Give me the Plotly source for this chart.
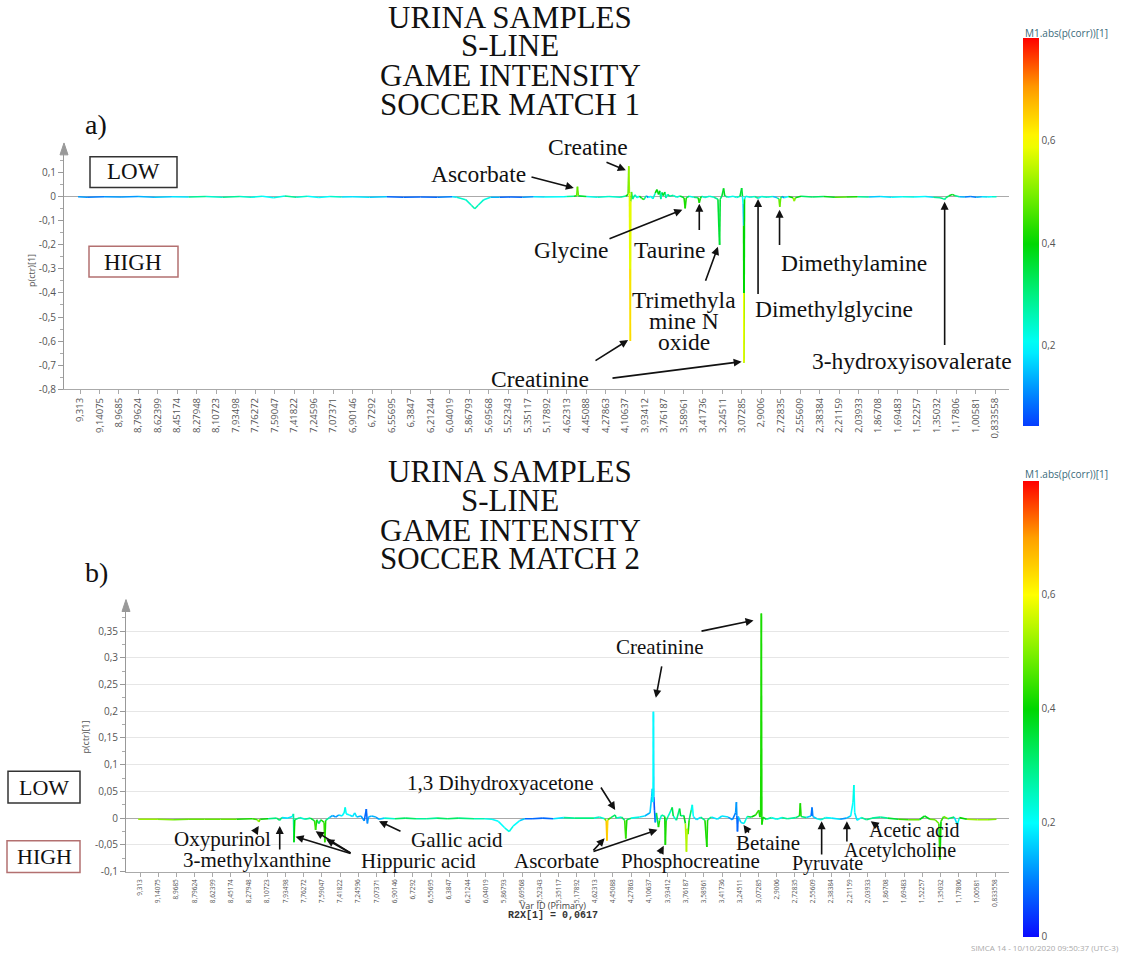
import numpy as np
import plotly.graph_objects as go

W, H = 1123, 960

# ---------------- data ----------------
tick_text = ["9,313", "9,14075", "8,9685", "8,79624", "8,62399", "8,45174", "8,27948", "8,10723",
             "7,93498", "7,76272", "7,59047", "7,41822", "7,24596", "7,07371", "6,90146", "6,7292",
             "6,55695", "6,3847", "6,21244", "6,04019", "5,86793", "5,69568", "5,52343", "5,35117",
             "5,17892", "4,62313", "4,45088", "4,27863", "4,10637", "3,93412", "3,76187", "3,58961",
             "3,41736", "3,24511", "3,07285", "2,9006", "2,72835", "2,55609", "2,38384", "2,21159",
             "2,03933", "1,86708", "1,69483", "1,52257", "1,35032", "1,17806", "1,00581", "0,833558"]

# Panel a (soccer match 1): ppm position, p(ctr)[1], abs(p(corr))
a_ppm = [9.33, 9.25, 9.10, 8.95, 8.80, 8.65, 8.50, 8.35, 8.20, 8.05, 7.90, 7.80, 7.70, 7.60, 7.50,
         7.40, 7.30, 7.20, 7.10, 7.00, 6.90, 6.75, 6.60, 6.45, 6.30, 6.15, 6.02, 5.98, 5.90, 5.85,
         5.82, 5.79, 5.74, 5.68, 5.60, 5.50, 5.40, 5.30, 5.20, 4.70, 4.62, 4.56, 4.535, 4.528, 4.520,
         4.45, 4.35, 4.25, 4.15, 4.10, 4.080, 4.074, 4.068, 4.064, 4.060, 4.056, 4.050, 4.040, 4.02,
         4.00, 3.98, 3.96, 3.94, 3.92, 3.90, 3.88, 3.86, 3.84, 3.825, 3.81, 3.80, 3.79, 3.78, 3.77,
         3.755, 3.745, 3.73, 3.71, 3.68, 3.65, 3.62, 3.585, 3.575, 3.565, 3.54, 3.50, 3.46, 3.45,
         3.44, 3.43, 3.40, 3.36, 3.32, 3.285, 3.275, 3.270, 3.265, 3.25, 3.235, 3.225, 3.20, 3.15,
         3.12, 3.09, 3.075, 3.068, 3.062, 3.058, 3.056, 3.055, 3.050, 3.04, 3.00, 2.96, 2.93, 2.90, 2.85,
         2.80, 2.76, 2.745, 2.738, 2.730, 2.72, 2.70, 2.66, 2.62, 2.61, 2.60, 2.55, 2.45, 2.35, 2.25,
         2.15, 2.05, 1.95, 1.85, 1.75, 1.65, 1.55, 1.45, 1.38, 1.32, 1.29, 1.279, 1.27, 1.24, 1.21,
         1.19, 1.15, 1.10, 1.05, 1.00, 0.95, 0.90, 0.86, 0.82]
a_val = [0.000, -0.002, 0.000, -0.001, 0.001, -0.002, 0.000, -0.001, 0.001, -0.002, 0.001, -0.002, 0.002, -0.004, 0.003,
         -0.002, 0.002, -0.003, 0.001, -0.001, 0.000, -0.002, 0.000, -0.002, -0.001, -0.002, 0.000, -0.002, -0.012, -0.035,
         -0.050, -0.035, -0.012, -0.002, -0.002, -0.001, -0.002, 0.000, -0.001, 0.000, 0.001, 0.002, 0.004, 0.042, 0.004,
         0.001, -0.002, 0.001, -0.002, 0.003, 0.010, 0.127, 0.015, -0.300, -0.600, -0.020, 0.020, -0.010, 0.008,
         -0.004, 0.003, -0.006, -0.012, 0.004, -0.003, 0.002, -0.008, 0.015, 0.030, 0.010, 0.025, -0.010, 0.018, 0.005,
         0.020, -0.005, 0.010, 0.002, 0.006, -0.002, 0.003, -0.004, -0.048, -0.004, 0.002, -0.002, -0.004, -0.025,
         -0.006, 0.002, -0.003, 0.002, -0.002, -0.010, -0.150, -0.200, -0.010, 0.003, 0.035, 0.004, -0.002, 0.002,
         -0.003, 0.002, 0.036, 0.003, -0.030, -0.120, -0.400, -0.690, -0.010, 0.002, -0.002, 0.001, -0.006, 0.001, -0.002,
         0.001, -0.004, -0.010, -0.042, -0.006, 0.002, -0.004, 0.001, -0.004, -0.018, -0.004, 0.002, -0.001, 0.001, -0.002,
         -0.001, 0.000, -0.001, 0.001, -0.002, 0.000, -0.001, 0.001, -0.002, -0.004, -0.008, -0.012, -0.004, 0.004, 0.010,
         0.005, 0.000, -0.001, 0.001, -0.002, 0.000, -0.001, 0.000, 0.000]
a_corr = [0.10, 0.12, 0.08, 0.15, 0.10, 0.18, 0.12, 0.25, 0.30, 0.20, 0.35, 0.15, 0.30, 0.10, 0.35,
          0.20, 0.30, 0.12, 0.28, 0.22, 0.15, 0.20, 0.10, 0.06, 0.08, 0.06, 0.15, 0.22, 0.25, 0.25,
          0.26, 0.25, 0.25, 0.20, 0.08, 0.06, 0.08, 0.15, 0.22, 0.20, 0.25, 0.30, 0.45, 0.50, 0.45,
          0.25, 0.20, 0.30, 0.20, 0.35, 0.45, 0.52, 0.50, 0.64, 0.66, 0.50, 0.45, 0.15, 0.40,
          0.10, 0.30, 0.45, 0.45, 0.10, 0.10, 0.30, 0.08, 0.40, 0.42, 0.35, 0.45, 0.10, 0.40, 0.30,
          0.45, 0.10, 0.35, 0.25, 0.30, 0.20, 0.30, 0.40, 0.45, 0.40, 0.25, 0.20, 0.40, 0.45,
          0.40, 0.30, 0.20, 0.30, 0.20, 0.35, 0.36, 0.38, 0.35, 0.30, 0.42, 0.35, 0.20, 0.25,
          0.20, 0.30, 0.42, 0.30, 0.10, 0.22, 0.56, 0.62, 0.20, 0.25, 0.20, 0.30, 0.25, 0.20, 0.30,
          0.20, 0.10, 0.45, 0.50, 0.45, 0.15, 0.10, 0.30, 0.50, 0.52, 0.45, 0.30, 0.35, 0.30, 0.45,
          0.48, 0.35, 0.20, 0.10, 0.25, 0.15, 0.30, 0.10, 0.25, 0.30, 0.28, 0.25, 0.30, 0.35, 0.40,
          0.35, 0.20, 0.08, 0.12, 0.08, 0.20, 0.15, 0.25, 0.25]

# Panel b (soccer match 2)
b_ppm = [9.33, 9.15, 9.00, 8.85, 8.70, 8.55, 8.40, 8.25, 8.20, 8.188, 8.175, 8.10, 8.02, 7.99, 7.97,
         7.92, 7.87, 7.860, 7.855, 7.848, 7.80, 7.75, 7.70, 7.66, 7.650, 7.640, 7.62, 7.60, 7.570, 7.563,
         7.555, 7.52, 7.49, 7.46, 7.43, 7.40, 7.38, 7.37, 7.36, 7.33, 7.30, 7.28, 7.26, 7.22, 7.19,
         7.170, 7.160, 7.15, 7.12, 7.08, 7.05, 7.00, 6.90, 6.80, 6.70, 6.60, 6.50, 6.40, 6.30, 6.15,
         6.05, 5.98, 5.92, 5.86, 5.817, 5.78, 5.72, 5.67, 5.60, 5.50, 5.40, 5.30, 5.20, 4.65, 4.58,
         4.53, 4.515, 4.508, 4.500, 4.47, 4.43, 4.42, 4.37, 4.34, 4.33, 4.32, 4.28, 4.20, 4.15, 4.10,
         4.085, 4.078, 4.072, 4.068, 4.064, 4.058, 4.05, 4.04, 4.02, 4.01, 3.99, 3.96, 3.955, 3.948,
         3.93, 3.90, 3.89, 3.88, 3.85, 3.82, 3.81, 3.78, 3.765, 3.755, 3.748, 3.74, 3.73, 3.71, 3.70,
         3.69, 3.66, 3.62, 3.58, 3.562, 3.555, 3.52, 3.46, 3.42, 3.36, 3.32, 3.29, 3.282, 3.278, 3.272,
         3.265, 3.24, 3.21, 3.18, 3.14, 3.10, 3.070, 3.060, 3.052, 3.046, 3.041, 3.03, 3.00, 2.95, 2.90,
         2.85, 2.80, 2.72, 2.685, 2.677, 2.670, 2.62, 2.575, 2.566, 2.558, 2.52, 2.48, 2.44, 2.38, 2.30,
         2.24, 2.20, 2.178, 2.170, 2.162, 2.14, 2.10, 2.05, 2.00, 1.92, 1.85, 1.75, 1.65, 1.55, 1.50,
         1.45, 1.40, 1.365, 1.355, 1.345, 1.32, 1.28, 1.22, 1.19, 1.17, 1.10, 1.00, 0.90, 0.82]
b_val = [-0.002, -0.002, -0.003, -0.002, -0.002, -0.002, -0.002, -0.001, -0.003, -0.007, -0.002, -0.001, 0.000, -0.004, 0.001,
         0.000, 0.003, 0.008, -0.045, -0.003, 0.001, -0.002, 0.000, -0.005, -0.022, -0.003, -0.010, -0.003, -0.008, -0.045,
         -0.004, 0.001, 0.005, 0.002, 0.006, 0.004, 0.010, 0.020, 0.008, 0.006, 0.003, 0.010, 0.002, 0.004, -0.005,
         0.017, -0.010, 0.002, 0.004, 0.002, -0.002, 0.000, -0.001, 0.000, -0.001, -0.001, 0.000, -0.001, 0.000, -0.001,
         -0.001, -0.002, -0.006, -0.018, -0.025, -0.015, -0.005, -0.001, -0.001, 0.000, -0.001, 0.001, 0.000, 0.000, 0.002,
         -0.001, -0.005, -0.042, -0.003, 0.001, 0.006, 0.000, 0.002, -0.004, -0.038, -0.003, 0.000, 0.002, 0.004, 0.010,
         0.040, 0.055, 0.030, 0.199, 0.040, 0.015, -0.008, 0.010, -0.017, -0.004, 0.006, 0.003, -0.050, -0.005,
         0.003, 0.015, 0.020, 0.004, -0.004, 0.018, 0.004, 0.005, -0.010, -0.063, -0.020, -0.030, -0.004, 0.015, 0.025,
         0.003, -0.003, 0.002, -0.004, -0.054, -0.003, 0.002, -0.002, 0.004, 0.002, -0.003, 0.010, 0.030, 0.005, -0.025,
         0.003, -0.008, -0.010, 0.003, 0.002, 0.006, 0.015, 0.002, 0.005, 0.383, -0.012, 0.002, -0.002, 0.001, -0.002,
         0.001, -0.001, 0.001, 0.004, 0.028, 0.003, 0.001, 0.004, 0.020, 0.003, -0.001, -0.003, 0.001, 0.000, -0.002,
         0.000, 0.004, 0.030, 0.062, 0.010, -0.004, 0.001, -0.003, 0.000, 0.002, 0.000, -0.002, -0.003, -0.003, 0.004,
         -0.002, -0.003, -0.010, -0.078, -0.006, 0.003, -0.001, 0.002, -0.012, 0.001, -0.002, -0.003, -0.003, -0.002]
b_corr = [0.50, 0.52, 0.48, 0.50, 0.45, 0.50, 0.45, 0.40, 0.50, 0.52, 0.45, 0.35, 0.25, 0.40, 0.20,
          0.15, 0.20, 0.15, 0.42, 0.40, 0.20, 0.30, 0.25, 0.45, 0.45, 0.40, 0.25, 0.40, 0.45, 0.45,
          0.40, 0.15, 0.12, 0.10, 0.15, 0.20, 0.22, 0.22, 0.20, 0.20, 0.15, 0.20, 0.15, 0.12, 0.10,
          0.08, 0.10, 0.15, 0.12, 0.15, 0.10, 0.20, 0.30, 0.35, 0.30, 0.25, 0.30, 0.35, 0.30, 0.28,
          0.25, 0.18, 0.20, 0.22, 0.24, 0.22, 0.20, 0.12, 0.06, 0.08, 0.10, 0.25, 0.30, 0.30, 0.20,
          0.30, 0.65, 0.68, 0.60, 0.30, 0.35, 0.30, 0.20, 0.45, 0.45, 0.40, 0.25, 0.20, 0.15, 0.12,
          0.20, 0.12, 0.20, 0.22, 0.08, 0.05, 0.10, 0.12, 0.55, 0.30, 0.20, 0.35, 0.45, 0.40,
          0.20, 0.30, 0.38, 0.30, 0.20, 0.40, 0.30, 0.25, 0.50, 0.58, 0.50, 0.45, 0.40, 0.22, 0.22,
          0.20, 0.15, 0.20, 0.40, 0.45, 0.40, 0.20, 0.15, 0.20, 0.15, 0.10, 0.10, 0.15, 0.08, 0.06,
          0.10, 0.20, 0.15, 0.30, 0.35, 0.45, 0.45, 0.40, 0.42, 0.42, 0.42, 0.40, 0.30, 0.25, 0.20,
          0.25, 0.30, 0.25, 0.40, 0.45, 0.40, 0.20, 0.10, 0.08, 0.12, 0.20, 0.25, 0.22, 0.20, 0.15,
          0.10, 0.20, 0.22, 0.22, 0.20, 0.15, 0.25, 0.30, 0.30, 0.25, 0.30, 0.40, 0.50, 0.45, 0.30,
          0.45, 0.50, 0.45, 0.42, 0.40, 0.50, 0.45, 0.20, 0.15, 0.30, 0.50, 0.55, 0.50, 0.50]

# ---------------- layout constants (pixels) ----------------
PA = dict(x0=64, x1=1009, t0=80, t47=995, ytop=150, ybot=392, vmin=-0.8, v0pix=198, per=24.1 / 0.1)
PB = dict(x0=126, x1=1009, t0=140, t47=995, ytop=610, ybot=878, vmin=-0.1, v0pix=824, per=26.9 / 0.05)

tick_ppm = [float(s.replace(",", ".")) for s in tick_text]
STEP = 0.17225


def ppm_to_idx(p):
    t = np.array(tick_ppm)
    et = np.concatenate([[t[0] + STEP], t, [t[-1] - STEP]])
    ei = np.arange(-1, len(t) + 1)
    return np.interp(-np.asarray(p, dtype=float), -et, ei)


def xrange_of(P):
    unit = (P["t47"] - P["t0"]) / 47.0
    return [-(P["t0"] - P["x0"]) / unit, 47 + (P["x1"] - P["t47"]) / unit], unit


def yrange_of(P):
    top = (P["v0pix"] - P["ytop"]) / P["per"]
    return [P["vmin"], top]


def xpix(P, ppm):
    rng, unit = xrange_of(P)
    return P["x0"] + (float(ppm_to_idx(ppm)) - rng[0]) * unit


def ypix(P, v):
    return P["v0pix"] - v * P["per"]


# colour scale (SIMCA-like, 0 .. 0.8)
CS = [(0.0, (10, 10, 255)), (0.1, (0, 128, 255)), (0.2, (0, 255, 255)), (0.3, (0, 240, 128)),
      (0.4, (0, 215, 0)), (0.5, (128, 240, 0)), (0.6, (255, 255, 0)), (0.7, (255, 160, 0)),
      (0.8, (255, 0, 0))]


def color_at(v):
    v = min(max(v, 0.0), 0.8)
    for (a, ca), (b, cb) in zip(CS[:-1], CS[1:]):
        if a <= v <= b:
            f = (v - a) / (b - a)
            c = [int(round(ca[k] + f * (cb[k] - ca[k]))) for k in range(3)]
            return "rgb(%d,%d,%d)" % tuple(c)
    return "rgb(255,0,0)"


def colorscale(lo, hi):
    vals = np.linspace(lo, hi, 33)
    return [[(v - lo) / (hi - lo), color_at(v)] for v in vals]


fig = go.Figure()


def add_spectrum(ppm, val, corr, xa, ya):
    x = ppm_to_idx(ppm)
    groups = {}
    for i in range(len(x) - 1):
        c = round(((corr[i] + corr[i + 1]) / 2) / 0.02) * 0.02
        gx, gy = groups.setdefault(c, ([], []))
        gx += [x[i], x[i + 1], None]
        gy += [val[i], val[i + 1], None]
    for c in sorted(groups):
        gx, gy = groups[c]
        fig.add_trace(go.Scatter(x=gx, y=gy, mode="lines", xaxis=xa, yaxis=ya,
                                 line=dict(color=color_at(c), width=1.6),
                                 hoverinfo="skip", showlegend=False))


add_spectrum(a_ppm, a_val, a_corr, "x", "y")
add_spectrum(b_ppm, b_val, b_corr, "x2", "y2")


def cbar(y0, y1, tvals):
    return dict(x=1023 / W, xanchor="left", xpad=0, ypad=0,
                y=1 - (y0 + y1) / 2 / H, yanchor="middle",
                len=(y1 - y0), lenmode="pixels", thickness=16, thicknessmode="pixels",
                outlinewidth=0, tickvals=tvals, ticktext=[("%g" % v).replace(".", ",") for v in tvals],
                ticks="", tickfont=dict(size=10, color="#555", family="Open Sans"))


fig.add_trace(go.Scatter(x=[-5], y=[0], mode="markers", xaxis="x", yaxis="y", showlegend=False,
                         hoverinfo="skip",
                         marker=dict(size=1, color=[0.4], cmin=0.043, cmax=0.8,
                                     colorscale=colorscale(0.043, 0.8), showscale=True,
                                     colorbar=cbar(40, 428, [0.2, 0.4, 0.6]))))
fig.add_trace(go.Scatter(x=[-5], y=[0], mode="markers", xaxis="x2", yaxis="y2", showlegend=False,
                         hoverinfo="skip",
                         marker=dict(size=1, color=[0.4], cmin=0.0, cmax=0.8,
                                     colorscale=colorscale(0.0, 0.8), showscale=True,
                                     colorbar=cbar(486, 942, [0.0, 0.2, 0.4, 0.6]))))


def xaxis_cfg(P, anchor, fsize):
    rng, _ = xrange_of(P)
    return dict(domain=[P["x0"] / W, P["x1"] / W], range=rng, anchor=anchor,
                tickmode="array", tickvals=list(range(len(tick_text))), ticktext=tick_text,
                tickangle=-90, tickfont=dict(size=fsize, color="#555", family="Open Sans"),
                ticks="outside", ticklen=4, tickcolor="#aaa",
                showline=True, linecolor="#aaa", linewidth=1, showgrid=False, zeroline=False)


def yaxis_cfg(P, anchor, tvals, grid, minor_dtick):
    return dict(domain=[1 - P["ybot"] / H, 1 - P["ytop"] / H], range=yrange_of(P), anchor=anchor,
                tickmode="array", tickvals=tvals,
                ticktext=[("%g" % v).replace(".", ",") for v in tvals],
                tickfont=dict(size=10, color="#555", family="Open Sans"),
                ticks="outside", ticklen=5, tickcolor="#999",
                minor=dict(ticks="outside", ticklen=3, tickcolor="#aaa", dtick=minor_dtick, showgrid=False),
                showline=True, linecolor="#999", linewidth=1,
                showgrid=grid, gridcolor="#e6e6e6", gridwidth=1,
                zeroline=True, zerolinecolor="#aaa", zerolinewidth=1)


a_ticks = [-0.8, -0.7, -0.6, -0.5, -0.4, -0.3, -0.2, -0.1, 0.0, 0.1]
b_ticks = [-0.1, -0.05, 0.0, 0.05, 0.1, 0.15, 0.2, 0.25, 0.3, 0.35]

fig.update_layout(
    width=W, height=H, autosize=False, margin=dict(l=0, r=0, t=0, b=0),
    paper_bgcolor="white", plot_bgcolor="white", showlegend=False,
    xaxis=xaxis_cfg(PA, "y", 9.5), yaxis=yaxis_cfg(PA, "x", a_ticks, False, 0.05),
    xaxis2=xaxis_cfg(PB, "y2", 6.5), yaxis2=yaxis_cfg(PB, "x2", b_ticks, True, 0.025),
)

SERIF = "Liberation Serif, Times New Roman, serif"
ann = []
shapes = []


def text(px, py, s, size=21, family=SERIF, color="#111", angle=0, xanchor="center"):
    ann.append(dict(x=px / W, y=1 - py / H, xref="paper", yref="paper", text=s, showarrow=False,
                    xanchor=xanchor, yanchor="middle", textangle=angle,
                    font=dict(size=size, family=family, color=color)))


def arrow(P, tail, tip_ppm, tip_val):
    tx, ty = xpix(P, tip_ppm), ypix(P, tip_val)
    sx = tx if tail[0] is None else tail[0]
    sy = tail[1]
    ann.append(dict(x=tx / W, y=1 - ty / H, xref="paper", yref="paper", text="",
                    showarrow=True, arrowhead=2, arrowsize=1, arrowwidth=1.6, arrowcolor="#111",
                    ax=sx - tx, ay=sy - ty, axref="pixel", ayref="pixel", standoff=0, startstandoff=0))


def box(x0, y0, x1, y1, color):
    shapes.append(dict(type="rect", xref="paper", yref="paper", x0=x0 / W, x1=x1 / W,
                       y0=1 - y1 / H, y1=1 - y0 / H, line=dict(color=color, width=1.5),
                       fillcolor="rgba(0,0,0,0)"))


def axis_arrow(px, ptop):
    path = "M %f,%f L %f,%f L %f,%f Z" % (px / W, 1 - ptop / H, (px - 4) / W, 1 - (ptop + 12) / H,
                                          (px + 4) / W, 1 - (ptop + 12) / H)
    shapes.append(dict(type="path", xref="paper", yref="paper", path=path,
                       fillcolor="#999", line=dict(color="#999", width=1)))


# ---- titles ----
for y, s in zip([18, 46, 76, 105], ["URINA SAMPLES", "S-LINE", "GAME INTENSITY", "SOCCER MATCH 1"]):
    text(510, y, s, size=31)
for y, s in zip([475, 504, 534, 563], ["URINA SAMPLES", "S-LINE", "GAME INTENSITY", "SOCCER MATCH 2"]):
    text(510, y, s, size=31)
text(96, 125, "a)", size=28)
text(96, 577, "b)", size=28)

# ---- LOW / HIGH boxes ----
box(90, 158, 177, 189, "#333")
text(133, 173, "LOW", size=23)
box(89, 248, 178, 279, "#b37070")
text(133, 264, "HIGH", size=23)
box(8, 777, 80, 809, "#333")
text(44, 793, "LOW", size=22)
box(7, 847, 80, 879, "#b37070")
text(44, 863, "HIGH", size=22)

# ---- axis titles / misc text ----
text(31, 273, "p(ctr)[1]", size=9, family="Open Sans", color="#555", angle=-90)
text(86, 743, "p(ctr)[1]", size=9, family="Open Sans", color="#555", angle=-90)
text(553, 912, "Var ID (Primary)", size=9, family="Open Sans", color="#444")
text(553, 922, "<b>R2X[1] = 0,0617</b>", size=10, family="Liberation Mono", color="#333")
text(1121, 954, "SIMCA 14 - 10/10/2020 09:50:37 (UTC-3)", size=8, family="Open Sans", color="#aaa",
     xanchor="right")
text(1066, 33, "M1.abs(p(corr))[1]", size=10, family="Open Sans", color="#3a6a7a")
text(1066, 477, "M1.abs(p(corr))[1]", size=10, family="Open Sans", color="#3a6a7a")

axis_arrow(PA["x0"], 144)
axis_arrow(PB["x0"], 604)

# ---- panel a annotations ----
FA = 23.5
text(588, 148, "Creatine", FA)
arrow(PA, (605, 163), 4.10, 0.11)
text(478, 175, "Ascorbate", FA)
arrow(PA, (530, 178), 4.56, 0.036)
text(571, 252, "Glycine", FA)
arrow(PA, (608, 241), 3.60, -0.055)
text(669, 252, "Taurine", FA)
arrow(PA, (None, 233), 3.45, -0.03)
text(684, 302, "Trimethyla", FA)
text(684, 323, "mine N", FA)
text(684, 345, "oxide", FA)
arrow(PA, (705, 284), 3.285, -0.21)
text(854, 265, "Dimethylamine", FA)
arrow(PA, (None, 248), 2.74, -0.055)
text(834, 311, "Dimethylglycine", FA)
arrow(PA, (None, 297), 2.93, -0.01)
text(912, 364, "3-hydroxyisovalerate", FA)
arrow(PA, (None, 348), 1.279, -0.022)
text(540, 382, "Creatinine", FA)
arrow(PA, (594, 364), 4.08, -0.60)
arrow(PA, (611, 381), 3.075, -0.69)

# ---- panel b annotations ----
text(659, 652, "Creatinine")
arrow(PB, (700, 636), 3.12, 0.37)
arrow(PB, (662, 670), 4.045, 0.225)
text(500, 789, "1,3 Dihydroxyacetone")
arrow(PB, (600, 792), 4.43, 0.015)
text(222, 845, "Oxypurinol")
arrow(PB, (255, 838), 8.188, -0.015)
text(257, 866, "3-methylxanthine")
arrow(PB, (None, 857), 7.99, -0.015)
text(418, 867, "Hippuric acid")
arrow(PB, (352, 860), 7.84, -0.035)
arrow(PB, (352, 860), 7.65, -0.025)
arrow(PB, (352, 860), 7.55, -0.04)
text(457, 846, "Gallic acid")
arrow(PB, (402, 838), 7.05, -0.006)
text(556, 867, "Ascorbate")
arrow(PB, (592, 858), 4.53, -0.038)
arrow(PB, (592, 858), 4.03, -0.022)
text(690, 867, "Phosphocreatine")
arrow(PB, (659, 861), 3.97, -0.052)
text(768, 849, "Betaine")
arrow(PB, (750, 840), 3.215, -0.013)
text(827, 870, "Pyruvate", 20)
arrow(PB, (None, 862), 2.475, -0.006)
text(900, 857, "Acetylcholine", 20)
arrow(PB, (None, 849), 2.236, -0.006)
text(914, 836, "Acetic acid", 20)
arrow(PB, (880, 834), 2.01, -0.006)

fig.update_layout(annotations=ann, shapes=shapes)
fig.write_html("out.html")
